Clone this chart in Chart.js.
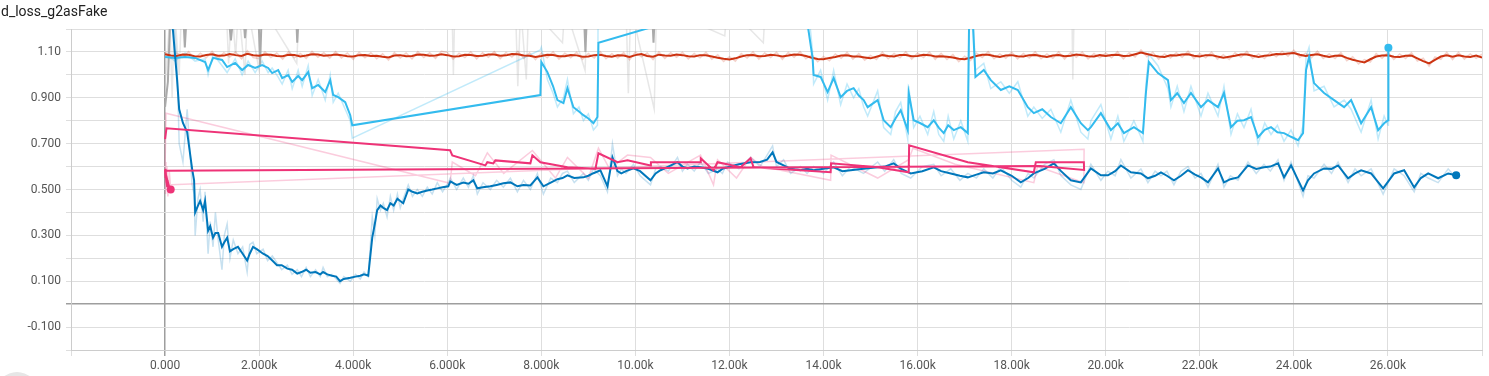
<!DOCTYPE html>
<html>
<head>
<meta charset="utf-8">
<script src="https://cdn.jsdelivr.net/npm/chart.js@4.4.1/dist/chart.umd.min.js"></script>
<style>
  body { margin: 0; background: #fff; overflow: hidden; }
  #wrap { position: relative; width: 1489px; height: 376px; }
  #title { position: absolute; left: 1px; top: 3px; font: 14px Roboto, sans-serif; color: #212121; }
  #btn { position: absolute; left: -3px; top: 372px; width: 40px; height: 40px; border-radius: 50%; background: #e6e6e6; }
  canvas { position: absolute; left: 0; top: 0; }
</style>
</head>
<body>
<div id="wrap">
  <canvas id="myChart" width="1489" height="376"></canvas>
  <div id="title">d_loss_g2asFake</div>
  <div id="btn"></div>
</div>
<script>
// dark blue run
var darkSteps = [0,170,255,300,380,470,575,617,640,700,745,810,850,915,960,1020,1070,1130,1210,1260,1320,1380,1450,1550,1650,1745,1800,1870,1950,2085,2180,2280,2380,2480,2600,2700,2810,2900,3000,3090,3200,3300,3360,3450,3550,3640,3720,3800,3940,4050,4150,4230,4320,4405,4460,4510,4580,4640,4720,4790,4860,4940,5000,5064,5171,5260,5363,5470,5575,5680,5788,5900,6022,6065,6200,6341,6450,6554,6639,6760,6916,7050,7193,7342,7491,7620,7767,7916,8044,8200,8342,8450,8555,8700,8895,9000,9108,9256,9406,9512,9619,9700,9800,9959,10100,10321,10430,10534,10700,10895,11000,11108,11250,11385,11550,11746,11850,11959,12200,12449,12650,12800,12917,13000,13151,13300,13513,13650,13789,14000,14215,14400,14577,14850,15151,15300,15492,15650,15853,16100,16343,16500,16705,16900,17067,17250,17407,17600,17769,18000,18194,18350,18471,18700,18897,19050,19258,19471,19684,19897,20046,20200,20322,20535,20748,20897,21050,21174,21300,21450,21600,21748,21900,22025,22174,22387,22514,22650,22812,23025,23200,23365,23500,23663,23791,23940,24195,24300,24429,24642,24800,24940,25153,25300,25430,25642,25898,26132,26345,26558,26700,26856,27068,27281,27451];
var darkSmooth = [1.40,1.19,0.98,0.85,0.79,0.75,0.59,0.54,0.40,0.43,0.45,0.41,0.45,0.32,0.34,0.29,0.31,0.31,0.25,0.27,0.29,0.23,0.24,0.25,0.22,0.19,0.22,0.25,0.24,0.22,0.21,0.19,0.17,0.17,0.155,0.15,0.133,0.14,0.15,0.137,0.14,0.13,0.14,0.13,0.124,0.12,0.10,0.11,0.115,0.12,0.124,0.13,0.124,0.29,0.35,0.41,0.43,0.42,0.41,0.44,0.43,0.46,0.45,0.44,0.50,0.49,0.483,0.49,0.496,0.50,0.505,0.51,0.514,0.535,0.52,0.53,0.525,0.54,0.505,0.51,0.514,0.52,0.527,0.531,0.514,0.52,0.518,0.553,0.514,0.53,0.545,0.55,0.562,0.55,0.553,0.56,0.571,0.584,0.514,0.64,0.58,0.57,0.58,0.592,0.58,0.54,0.57,0.584,0.60,0.619,0.60,0.592,0.60,0.597,0.59,0.575,0.59,0.597,0.61,0.619,0.62,0.63,0.662,0.62,0.605,0.59,0.584,0.59,0.584,0.59,0.597,0.58,0.584,0.59,0.597,0.60,0.614,0.59,0.570,0.58,0.597,0.58,0.570,0.56,0.553,0.565,0.575,0.57,0.584,0.56,0.531,0.55,0.57,0.59,0.614,0.58,0.54,0.531,0.592,0.562,0.562,0.58,0.605,0.575,0.57,0.549,0.56,0.575,0.56,0.54,0.56,0.584,0.565,0.553,0.531,0.592,0.531,0.545,0.553,0.605,0.59,0.597,0.60,0.614,0.553,0.605,0.496,0.54,0.57,0.592,0.59,0.605,0.549,0.57,0.584,0.57,0.505,0.57,0.584,0.509,0.55,0.57,0.549,0.57,0.562];
var darkRaw = [1.45,1.30,1.05,0.70,0.62,0.85,0.52,0.48,0.30,0.46,0.50,0.36,0.49,0.22,0.36,0.25,0.40,0.28,0.15,0.30,0.35,0.20,0.28,0.22,0.25,0.14,0.26,0.27,0.22,0.24,0.19,0.21,0.18,0.15,0.17,0.13,0.15,0.12,0.16,0.12,0.15,0.12,0.16,0.12,0.13,0.11,0.09,0.12,0.10,0.13,0.11,0.14,0.12,0.38,0.30,0.46,0.41,0.44,0.38,0.47,0.41,0.48,0.42,0.46,0.52,0.47,0.50,0.47,0.51,0.48,0.53,0.49,0.53,0.55,0.50,0.55,0.51,0.56,0.48,0.53,0.50,0.54,0.51,0.55,0.49,0.54,0.50,0.57,0.48,0.55,0.53,0.57,0.58,0.53,0.57,0.54,0.59,0.56,0.49,0.70,0.56,0.59,0.57,0.61,0.56,0.52,0.59,0.60,0.58,0.64,0.58,0.61,0.58,0.62,0.57,0.59,0.57,0.62,0.59,0.64,0.60,0.65,0.69,0.60,0.63,0.57,0.60,0.57,0.60,0.57,0.62,0.56,0.60,0.57,0.62,0.58,0.63,0.57,0.55,0.60,0.61,0.56,0.59,0.54,0.57,0.55,0.59,0.55,0.60,0.54,0.51,0.57,0.55,0.61,0.63,0.56,0.52,0.50,0.61,0.54,0.58,0.56,0.63,0.55,0.59,0.53,0.58,0.56,0.58,0.52,0.58,0.60,0.55,0.57,0.51,0.61,0.51,0.56,0.54,0.62,0.57,0.61,0.58,0.63,0.54,0.62,0.47,0.56,0.55,0.61,0.57,0.62,0.53,0.59,0.56,0.59,0.48,0.59,0.56,0.49,0.57,0.55,0.53,0.59,0.55];

// light blue run
var cyanSteps = [0,213,426,638,851,915,1021,1213,1319,1490,1639,1766,1915,2064,2192,2277,2405,2490,2617,2703,2830,2915,3043,3128,3256,3405,3511,3575,3681,3830,3937,3980,7980,8000,8129,8250,8342,8470,8555,8682,8800,8895,9000,9108,9193,9214,13530,13767,13789,13938,14087,14215,14364,14500,14640,14750,14853,14938,15151,15279,15428,15530,15641,15790,15811,15917,16050,16215,16343,16450,16556,16650,16769,16918,17067,17110,17230,17407,17556,17769,17950,18131,18343,18471,18650,18833,19045,19258,19471,19620,19684,19897,20110,20258,20386,20599,20790,20854,20918,21110,21323,21386,21520,21663,21812,22025,22174,22387,22514,22663,22800,22940,23089,23238,23380,23514,23650,23791,23940,24089,24195,24259,24323,24429,24642,24855,25068,25217,25430,25642,25791,25919,26004,26010];
var cyanSmooth = [1.078,1.074,1.078,1.074,1.056,1.021,1.074,1.065,1.034,1.052,1.021,1.043,1.03,1.043,1.03,1.008,1.021,0.986,0.999,0.969,0.995,0.977,1.012,0.942,0.956,0.925,0.977,0.912,0.903,0.881,0.824,0.78,0.912,1.056,1.012,0.95,0.89,0.877,0.942,0.859,0.84,0.824,0.81,0.789,0.816,1.14,1.40,1.074,0.999,0.991,0.925,0.986,0.903,0.93,0.942,0.91,0.89,0.859,0.89,0.802,0.772,0.81,0.846,0.759,0.921,0.802,0.79,0.772,0.802,0.77,0.746,0.78,0.759,0.772,0.746,1.5,0.991,1.021,0.977,0.934,0.95,0.934,0.859,0.833,0.85,0.816,0.789,0.859,0.789,0.759,0.772,0.833,0.759,0.789,0.746,0.772,0.746,0.921,1.056,1.008,0.977,0.89,0.92,0.877,0.921,0.859,0.89,0.859,0.921,0.772,0.80,0.802,0.816,0.728,0.76,0.772,0.75,0.746,0.73,0.715,0.746,1.021,1.078,0.964,0.921,0.89,0.859,0.89,0.789,0.859,0.759,0.789,0.802,1.118];
var cyanRaw = [1.09,1.06,1.095,1.06,1.07,1.00,1.09,1.04,1.01,1.07,1.00,1.06,1.01,1.06,1.01,1.03,0.99,0.96,1.02,0.94,1.02,0.95,1.04,0.91,0.98,0.89,1.00,0.88,0.92,0.85,0.80,0.724,1.109,1.12,0.98,0.92,0.86,0.90,0.98,0.83,0.86,0.80,0.83,0.76,0.78,1.5,1.6,1.1,0.96,1.02,0.89,1.02,0.87,0.96,0.90,0.94,0.86,0.82,0.93,0.77,0.74,0.84,0.88,0.72,0.95,0.77,0.82,0.74,0.84,0.74,0.71,0.82,0.72,0.80,0.71,1.6,1.02,1.05,0.94,0.97,0.92,0.97,0.82,0.86,0.81,0.85,0.75,0.89,0.75,0.72,0.80,0.87,0.72,0.82,0.71,0.80,0.71,0.96,1.09,1.04,0.94,0.86,0.95,0.84,0.95,0.82,0.92,0.82,0.95,0.74,0.83,0.77,0.85,0.70,0.79,0.74,0.78,0.71,0.76,0.69,0.78,1.08,1.12,0.93,0.95,0.86,0.89,0.85,0.75,0.89,0.72,0.82,0.78,1.118];

// red run
var redSteps = [0,125,250,375,500,625,750,875,1000,1125,1250,1375,1500,1625,1750,1875,2000,2125,2250,2375,2500,2625,2750,2875,3000,3125,3250,3375,3500,3625,3750,3875,4000,4125,4250,4375,4500,4625,4750,4875,5000,5125,5250,5375,5500,5625,5750,5875,6000,6125,6250,6375,6500,6625,6750,6875,7000,7125,7250,7375,7500,7625,7750,7875,8000,8125,8250,8375,8500,8625,8750,8875,9000,9125,9250,9375,9500,9625,9750,9875,10000,10125,10250,10375,10500,10625,10750,10875,11000,11125,11250,11375,11500,11625,11750,11875,12000,12125,12250,12375,12500,12625,12750,12875,13000,13125,13250,13375,13500,13625,13750,13875,14000,14125,14250,14375,14500,14625,14750,14875,15000,15125,15250,15375,15500,15625,15750,15875,16000,16125,16250,16375,16500,16625,16750,16875,17000,17125,17250,17375,17500,17625,17750,17875,18000,18125,18250,18375,18500,18625,18750,18875,19000,19125,19250,19375,19500,19625,19750,19875,20000,20125,20250,20375,20500,20625,20750,20875,21000,21125,21250,21375,21500,21625,21750,21875,22000,22125,22250,22375,22500,22625,22750,22875,23000,23125,23250,23375,23500,23625,23750,23875,24000,24125,24250,24375,24500,24625,24750,24875,25000,25125,25250,25375,25500,25625,25750,25875,26000,26125,26250,26375,26500,26625,26750,26875,27000,27125,27250,27375,27500,27625,27750,27875,28000];
var redSmooth = [1.090,1.084,1.082,1.089,1.088,1.081,1.080,1.087,
  1.090,1.083,1.084,1.091,1.086,1.082,1.092,1.086,
  1.083,1.089,1.088,1.082,1.081,1.088,1.087,1.080,
  1.084,1.090,1.089,1.083,1.085,1.089,1.086,1.081,
  1.080,1.086,1.087,1.082,1.083,1.079,1.076,1.084,
  1.086,1.081,1.082,1.089,1.088,1.083,1.084,1.090,
  1.086,1.080,1.081,1.088,1.087,1.082,1.083,1.089,
  1.089,1.083,1.085,1.091,1.090,1.084,1.083,1.078,
  1.082,1.088,1.087,1.081,1.081,1.087,1.085,1.079,
  1.080,1.086,1.088,1.082,1.079,1.085,1.084,1.078,
  1.086,1.091,1.082,1.079,1.088,1.084,1.083,1.089,
  1.086,1.081,1.080,1.086,1.085,1.080,1.075,1.070,
  1.067,1.072,1.080,1.086,1.087,1.081,1.082,1.088,
  1.085,1.080,1.084,1.089,1.088,1.082,1.075,1.069,
  1.068,1.074,1.078,1.084,1.085,1.080,1.080,1.076,
  1.072,1.079,1.086,1.082,1.080,1.087,1.087,1.081,
  1.082,1.088,1.086,1.080,1.081,1.079,1.076,1.070,
  1.068,1.075,1.082,1.088,1.088,1.082,1.078,1.084,
  1.086,1.081,1.080,1.086,1.087,1.082,1.078,1.084,
  1.087,1.081,1.083,1.089,1.086,1.081,1.080,1.086,
  1.082,1.087,1.088,1.082,1.083,1.090,1.097,1.091,
  1.085,1.080,1.078,1.085,1.084,1.089,1.090,1.083,
  1.080,1.086,1.086,1.080,1.075,1.079,1.083,1.089,
  1.089,1.083,1.078,1.083,1.086,1.091,1.090,1.093,
  1.095,1.088,1.082,1.087,1.090,1.083,1.078,1.083,
  1.084,1.074,1.066,1.060,1.054,1.068,1.080,1.084,
  1.085,1.079,1.078,1.083,1.084,1.072,1.060,1.050,
  1.065,1.080,1.085,1.079,1.085,1.080,1.078,1.084,
  1.075];
var redRaw = [1.100,1.072,1.095,1.076,1.101,1.070,1.094,1.075,
  1.102,1.071,1.097,1.078,1.099,1.070,1.105,1.075,
  1.071,1.100,1.076,1.095,1.069,1.100,1.075,1.093,
  1.072,1.102,1.077,1.097,1.073,1.101,1.074,1.095,
  1.068,1.098,1.075,1.096,1.070,1.092,1.064,1.097,
  1.074,1.095,1.070,1.101,1.076,1.096,1.072,1.103,
  1.098,1.068,1.094,1.076,1.100,1.070,1.096,1.077,
  1.101,1.071,1.098,1.078,1.103,1.072,1.096,1.066,
  1.095,1.075,1.100,1.069,1.094,1.075,1.098,1.067,
  1.093,1.074,1.101,1.070,1.092,1.073,1.097,1.066,
  1.099,1.079,1.095,1.067,1.100,1.072,1.096,1.077,
  1.098,1.069,1.093,1.074,1.098,1.068,1.088,1.058,
  1.079,1.060,1.093,1.074,1.100,1.069,1.095,1.076,
  1.098,1.068,1.097,1.077,1.101,1.070,1.088,1.057,
  1.080,1.062,1.091,1.072,1.098,1.068,1.093,1.064,
  1.085,1.067,1.099,1.070,1.093,1.075,1.100,1.069,
  1.095,1.076,1.099,1.068,1.094,1.067,1.089,1.058,
  1.081,1.063,1.095,1.076,1.101,1.070,1.091,1.072,
  1.099,1.069,1.093,1.074,1.100,1.070,1.091,1.072,
  1.100,1.069,1.096,1.077,1.099,1.069,1.093,1.074,
  1.095,1.075,1.101,1.070,1.096,1.078,1.109,1.079,
  1.098,1.068,1.091,1.073,1.097,1.077,1.103,1.071,
  1.093,1.074,1.099,1.068,1.088,1.067,1.096,1.077,
  1.102,1.071,1.091,1.071,1.099,1.079,1.103,1.081,
  1.108,1.076,1.095,1.075,1.103,1.071,1.091,1.071,
  1.097,1.062,1.079,1.048,1.067,1.056,1.093,1.072,
  1.098,1.067,1.091,1.071,1.097,1.060,1.073,1.038,
  1.078,1.068,1.098,1.067,1.098,1.068,1.091,1.072,
  1.090];

// pink run (steps restart, so x goes back)
var pinkSteps = [0,30,6060,6107,6810,6852,6980,7022,7767,7810,7980,8555,9150,9214,9619,9832,10321,10330,11385,11390,11661,11746,12236,12449,12513,14151,14160,15151,15811,15820,17067,18471,18513,19535,19540,18600,0,15,5,30,10,45,25,70,50,95,120];
var pinkSmooth = [0.72,0.767,0.671,0.649,0.605,0.619,0.614,0.627,0.614,0.649,0.619,0.597,0.59,0.658,0.619,0.627,0.605,0.619,0.619,0.636,0.584,0.619,0.597,0.636,0.597,0.575,0.614,0.597,0.575,0.693,0.619,0.575,0.619,0.619,0.585,0.603,0.582,0.55,0.59,0.53,0.57,0.51,0.56,0.52,0.54,0.505,0.50];
var pinkRawSteps = [0,20,6060,6107,6600,6852,7200,7810,8300,8555,9000,9214,9450,9832,10321,10700,11385,11661,11746,12150,12449,12700,14151,14160,15151,15811,15900,16800,18471,18550,19535,19540,0,20,10,40,60,90,120];
var pinkRaw = [0.60,0.833,0.527,0.62,0.56,0.66,0.57,0.67,0.55,0.64,0.55,0.68,0.59,0.65,0.64,0.57,0.65,0.52,0.63,0.55,0.64,0.60,0.54,0.65,0.55,0.63,0.68,0.61,0.53,0.60,0.53,0.675,0.52,0.62,0.48,0.60,0.47,0.58,0.50];

// grey run, mostly above the plot
var greySteps = [0,60,110,200,380,420,470,1330,1400,1470,1650,1700,1760,1980,2020,2060,2780,2810,2850,8900,8937,8975,10350,10385,10420,11500];
var greySmooth = [0.86,0.97,1.25,1.32,1.30,1.12,1.30,1.30,1.15,1.30,1.30,1.16,1.30,1.30,1.04,1.30,1.30,1.14,1.30,1.30,1.10,1.30,1.30,1.14,1.30,1.30];
var greyRawSteps = [0,100,150,200,300,350,1300,1350,1420,1500,1560,1700,1750,2000,2050,2800,2850,6100,6130,6160,7450,7500,7560,7680,7730,8450,8500,8930,8980,9800,9850,9900,10400,10450,11900,11950,12720,12760,19280,19300,19330];
var greyRaw = [0.95,1.25,0.90,1.30,1.00,1.30,1.30,1.05,1.30,1.08,1.30,1.00,1.30,1.02,1.30,1.05,1.30,1.30,1.00,1.30,1.30,0.95,1.30,0.98,1.30,1.14,1.30,1.02,1.30,1.30,0.92,1.30,0.85,1.30,1.17,1.30,1.14,1.30,1.30,0.98,1.30];

function pts(steps, vals) {
  return steps.map(function(s, i) { return { x: s, y: vals[i] }; });
}

function lastDot(ctx) {
  return ctx.dataIndex === ctx.dataset.data.length - 1 ? 4 : 0;
}

function line(data, color, width, order, dot) {
  return {
    data: data,
    borderColor: color,
    backgroundColor: color,
    borderWidth: width,
    pointRadius: dot ? lastDot : 0,
    pointBorderWidth: 0,
    tension: 0,
    fill: false,
    order: order
  };
}

var ctx = document.getElementById("myChart");
var myChart = new Chart(ctx, {
  type: 'line',
  data: {
    datasets: [
      line(pts(greyRawSteps, greyRaw), 'rgba(187,187,187,0.35)', 1.5, 20, false),
      line(pts(redSteps, redRaw), 'rgba(204,51,17,0.22)', 1.5, 19, false),
      line(pts(cyanSteps, cyanRaw), 'rgba(51,187,238,0.3)', 1.5, 18, false),
      line(pts(darkSteps, darkRaw), 'rgba(0,119,187,0.22)', 1.5, 17, false),
      line(pts(pinkRawSteps, pinkRaw), 'rgba(238,51,119,0.25)', 1.5, 16, false),
      line(pts(greySteps, greySmooth), '#aaaaaa', 2, 9, false),
      line(pts(redSteps, redSmooth), '#cc3311', 2, 8, false),
      line(pts(cyanSteps, cyanSmooth), '#33bbee', 2, 7, true),
      line(pts(darkSteps, darkSmooth), '#0077bb', 2, 6, true),
      line(pts(pinkSteps, pinkSmooth), '#ee3377', 2, 5, true)
    ]
  },
  options: {
    responsive: false,
    animation: false,
    devicePixelRatio: 1,
    layout: { padding: { top: 29, right: 7, left: 0, bottom: 0 } },
    plugins: { legend: { display: false }, tooltip: { enabled: false } },
    scales: {
      x: {
        type: 'linear',
        min: -2000,
        max: 28000,
        afterFit: function(scale) { scale.height = 26; },
        border: { display: true, color: '#cccccc' },
        grid: {
          color: function(c) { return c.tick && c.tick.value === 0 ? '#9e9e9e' : '#dedede'; },
          lineWidth: function(c) { return c.tick && c.tick.value === 0 ? 1.5 : 1; },
          tickLength: 6
        },
        ticks: {
          stepSize: 2000,
          autoSkip: false,
          maxRotation: 0,
          padding: 3,
          color: '#555555',
          font: { family: 'Roboto', size: 12 },
          callback: function(v) {
            if (v < 0 || v > 26000) return '';
            if (v === 0) return '0.000';
            return (v / 1000).toPrecision(4) + 'k';
          }
        }
      },
      y: {
        min: -0.2,
        max: 1.2,
        afterFit: function(scale) { scale.width = 71; },
        border: { display: true, color: '#cccccc' },
        grid: {
          color: function(c) { return c.tick && Math.abs(c.tick.value) < 1e-6 ? '#9e9e9e' : '#dedede'; },
          lineWidth: function(c) { return c.tick && Math.abs(c.tick.value) < 1e-6 ? 1.5 : 1; },
          tickLength: 5
        },
        ticks: {
          stepSize: 0.1,
          autoSkip: false,
          padding: 5,
          color: '#555555',
          font: { family: 'Roboto', size: 12 },
          callback: function(v) {
            var t = Math.round(v * 10);
            if (Math.abs(t) % 2 !== 1) return '';
            return (t / 10).toPrecision(3);
          }
        }
      }
    }
  }
});
</script>
</body>
</html>
